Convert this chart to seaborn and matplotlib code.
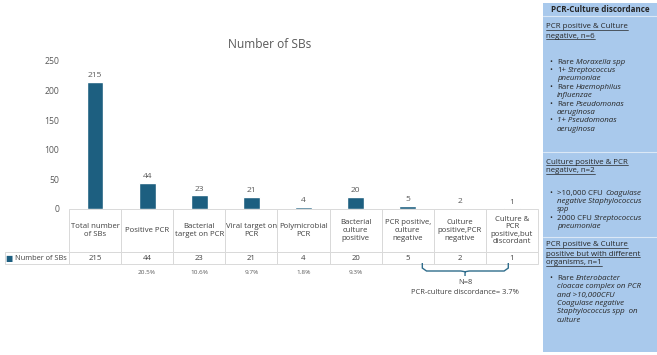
import numpy as np
import pandas as pd
import matplotlib
matplotlib.use('Agg')
import matplotlib.pyplot as plt
import matplotlib.transforms as mtransforms
from matplotlib.patches import Rectangle, PathPatch
from matplotlib.path import Path
from matplotlib.lines import Line2D
from matplotlib.text import Annotation
import seaborn as sns

# Chart data
categories = ['Total number\nof SBs', 'Positive PCR', 'Bacterial\ntarget on PCR',
              'Viral target on\nPCR', 'Polymicrobial\nPCR', 'Bacterial\nculture\npositive',
              'PCR positive,\nculture\nnegative', 'Culture\npositive,PCR\nnegative',
              'Culture &\nPCR\npositive,but\ndiscordant']
counts = [215, 44, 23, 21, 4, 20, 5, 2, 1]
shares = ['', '20.5%', '10.6%', '9.7%', '1.8%', '9.3%', '', '', '']
series_name = 'Number of SBs'
discordant_label = 'N=8'
discordant_note = 'PCR-culture discordance= 3.7%'

# Side panel text: (text, italic) segments per line
panel_header = 'PCR-Culture discordance'
panel_sections = [
    (['PCR positive & Culture', 'negative, n=6'],
     [[[('Rare', False), ('Moraxella spp', True)]],
      [[('1+', False), ('Streptococcus', True)], [('pneumoniae', True)]],
      [[('Rare', False), ('Haemophilus', True)], [('influenzae', True)]],
      [[('Rare', False), ('Pseudomonas', True)], [('aeruginosa', True)]],
      [[('1+ Pseudomonas', True)], [('aeruginosa', True)]]]),
    (['Culture positive & PCR', 'negative, n=2'],
     [[[('>10,000 CFU', False), ('Coagulase', True)], [('negative Staphylococcus', True)], [('spp', True)]],
      [[('2000 CFU', False), ('Streptococcus', True)], [('pneumoniae', True)]]]),
    (['PCR positive & Culture', 'positive but with different', 'organisms, n=1'],
     [[[('Rare', False), ('Enterobacter', True)], [('cloacae complex on PCR', True)],
       [('and >10,000CFU', True)], [('Coagulase negative', True)],
       [('Staphylococcus spp  on', True)], [('culture', True)]]]),
]

bar_color = '#1d5f80'
grey = '#595959'
dark = '#262626'
panel_color = '#a9c9ec'

sns.set_theme(style='white')
plt.rcParams['font.family'] = ['Open Sans', 'DejaVu Sans']

W, H = 657, 355
fig = plt.figure(figsize=(W / 100, H / 100), dpi=100)
fig.patch.set_facecolor('white')


def fx(px):
    return px / W


def fy(py):
    return 1 - py / H


ax_left, ax_right, ax_top, ax_bottom = 69, 538, 61, 209
ax = fig.add_axes([fx(ax_left), fy(ax_bottom), fx(ax_right) - fx(ax_left), fy(ax_top) - fy(ax_bottom)])

df = pd.DataFrame({'category': categories, 'count': counts})
sns.barplot(data=df, x='category', y='count', color=bar_color, width=0.32,
            saturation=1, ax=ax)
ax.set_ylim(0, 250)
ax.set_xlim(-0.5, len(categories) - 0.5)
ax.set_yticks(range(0, 251, 50))
ax.set_xticks([])
ax.set(xlabel='', ylabel='')
ax.tick_params(axis='y', length=0, labelsize=6.2, labelcolor=grey, pad=7)
sns.despine(ax=ax, left=True, bottom=True)
ax.bar_label(ax.containers[0], fmt='%d', padding=2, fontsize=6, color=grey)

fig.text(fx(270), fy(45), 'Number of SBs', ha='center', va='center', fontsize=8.6, color=grey)

# Data table under the bars (row label cell hangs left of the axes)
ax_h = ax_bottom - ax_top
col_w = 1 / len(categories)
lab_w = (ax_left - 5) / (ax_right - ax_left)
head_h = 43 / ax_h
row_h = 12 / ax_h
tbl = ax.table(cellText=[[str(v) for v in counts]], rowLabels=[''],
               colLabels=categories, cellLoc='center', rowLoc='left',
               bbox=[0, -(head_h + row_h), 1, head_h + row_h])
# keep the row-label column at a fixed width
tbl._autoColumns = [c for c in tbl._autoColumns if c != -1]
tbl.auto_set_font_size(False)
tbl.set_fontsize(5.6)
for (r, c), cell in tbl.get_celld().items():
    cell.set_edgecolor('#d9d9d9')
    cell.set_linewidth(0.7)
    cell.set_width(lab_w if c == -1 else col_w)
    cell.set_height(head_h if r == 0 else row_h)
    cell.get_text().set_color('#404040')
    cell.get_text().set_linespacing(1.1)
fig.text(fx(9), fy(258), '\u25A0', ha='center', va='center', fontsize=5.5,
         color=bar_color, family='DejaVu Sans')
fig.text(fx(15), fy(258), series_name, ha='left', va='center', fontsize=5.3, color='#404040')

blend = mtransforms.blended_transform_factory(ax.transData, ax.transAxes)
for i, s in enumerate(shares):
    if s:
        ax.text(i, -(272 - ax_bottom) / ax_h, s, transform=blend, ha='center', va='center',
                fontsize=4.6, color=grey)

# Brace under the discordant columns
x0, x1, xm = 6.28, 7.93, 7.10
ytop = -(263 - ax_bottom) / ax_h
ymid = -(271 - ax_bottom) / ax_h
ytip = -(276 - ax_bottom) / ax_h
r = 0.08
codes = [Path.MOVETO, Path.LINETO, Path.LINETO, Path.LINETO, Path.LINETO, Path.LINETO,
         Path.MOVETO, Path.LINETO, Path.LINETO, Path.LINETO, Path.LINETO]
verts = [(x0, ytop), (x0, ymid + 0.02), (x0 + r, ymid), (xm - r, ymid), (xm, ymid - 0.005), (xm, ytip),
         (xm, ymid - 0.005), (xm + r, ymid), (x1 - r, ymid), (x1, ymid + 0.02), (x1, ytop)]
brace = PathPatch(Path(verts, codes), transform=blend, fill=False, edgecolor='#2f6d8c',
                  linewidth=1, clip_on=False)
ax.add_patch(brace)
fig.text(fx(465), fy(283), discordant_label, ha='center', va='center', fontsize=5.4, color='#404040')
fig.text(fx(465), fy(293), discordant_note, ha='center', va='center', fontsize=5.4, color='#404040')

# Side panel
fig.patches.append(Rectangle((fx(543), fy(352)), fx(657) - fx(543), fy(3) - fy(352),
                             transform=fig.transFigure, facecolor=panel_color, edgecolor='none'))
for sy in [16, 152, 237]:
    fig.add_artist(Line2D([fx(543), fx(657)], [fy(sy), fy(sy)], color='#dbe8f6', linewidth=0.8))
fig.text(fx(600), fy(9.5), panel_header, ha='center', va='center', fontsize=5.8,
         fontweight='bold', color=dark)

fs = 5.7
step = 8.4
title_tops = [26, 161, 244]
bullet_tops = [61, 192, 277]
title_texts = []
for (titles, bullets), ty, by in zip(panel_sections, title_tops, bullet_tops):
    for k, t in enumerate(titles):
        title_texts.append(fig.text(fx(546), fy(ty + 2.5 + k * 9.0), t, ha='left', va='baseline',
                                    fontsize=fs, color=dark))
    y = by
    for bullet in bullets:
        fig.text(fx(549), fy(y + 2.5), '\u2022', ha='left', va='baseline', fontsize=fs, color=dark)
        rest = bullet
        if not bullet[0][0][1]:
            # upright prefix followed by italic organism name on the same baseline
            pre = fig.text(fx(557), fy(y + 2.5), bullet[0][0][0], ha='left', va='baseline',
                           fontsize=fs, color=dark)
            name = Annotation(bullet[0][1][0], xy=(1, 0), xycoords=pre, xytext=(1.6, 0),
                              textcoords='offset points', ha='left', va='bottom', fontsize=fs,
                              style='italic', color=dark, annotation_clip=False)
            name.set_transform(mtransforms.IdentityTransform())
            fig.add_artist(name)
            rest = bullet[1:]
            y += step
        if rest:
            # a multi-line block sits on the baseline of its last line
            n = len(rest)
            block = '\n'.join(''.join(t for t, _ in segs) for segs in rest)
            fig.text(fx(557), fy(y + (n - 1) * step + 2.5), block, ha='left', va='baseline',
                     fontsize=fs, style='italic', color=dark, linespacing=1.25)
            y += step * n

# Underline the section titles
fig.canvas.draw()
for t in title_texts:
    bb = t.get_window_extent()
    yy = (bb.y0 + 0.8) / fig.bbox.height
    fig.add_artist(Line2D([bb.x0 / fig.bbox.width, bb.x1 / fig.bbox.width], [yy, yy],
                          color=dark, linewidth=0.5))

fig.savefig('out.png', dpi=100)
